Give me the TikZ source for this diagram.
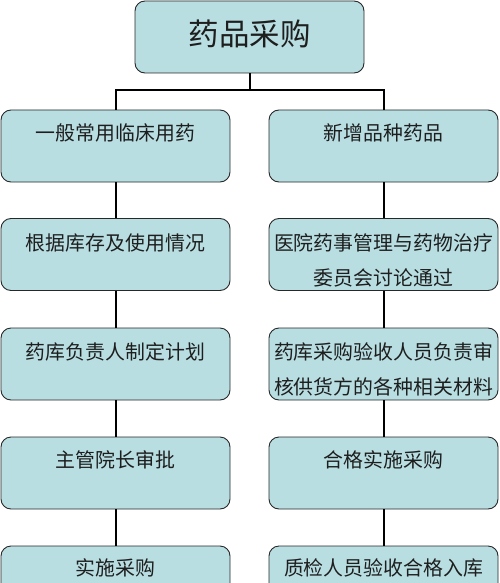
\documentclass[tikz,border=0pt]{standalone}
\usepackage{fontspec}
\newfontfamily\cjk{Noto Sans CJK SC}
\usetikzlibrary{calc}
\definecolor{boxfill}{RGB}{184,222,226}
\definecolor{boxline}{RGB}{40,40,40}
\definecolor{txtcol}{RGB}{30,30,30}
\tikzset{
  box/.style={draw=boxline, line width=0.9pt, fill=boxfill, rounded corners=10pt,
    minimum width=229pt, minimum height=72pt, inner sep=0pt},
  topbox/.style={box, minimum width=229pt, minimum height=72pt},
  txt/.style={font=\cjk\fontsize{19.9}{20}\selectfont, text=txtcol, inner sep=0pt, anchor=center},
  title/.style={font=\cjk\fontsize{30.5}{31}\selectfont, text=txtcol, inner sep=0pt},
  link/.style={draw=black, line width=2pt}
}
\begin{document}
\begin{tikzpicture}[x=1pt,y=-1pt]
\clip (0,0) rectangle (500,583);
% boxes
\node[topbox] (t) at (249.5,37) {};
\node[box] (l1) at (115.5,146) {};
\node[box] (r1) at (383.5,146) {};
\node[box] (l2) at (115.5,254.5) {};
\node[box] (r2) at (383.5,254.5) {};
\node[box] (l3) at (115.5,364) {};
\node[box] (r3) at (383.5,364) {};
\node[box] (l4) at (115.5,473) {};
\node[box] (r4) at (383.5,473) {};
\node[box] (l5) at (115.5,582) {};
\node[box] (r5) at (383.5,582) {};
% connectors
\coordinate (j) at (249.5,90);
\draw[link] (t.south) -- (j);
\draw[link] (j) -| (l1.north);
\draw[link] (j) -| (r1.north);
\draw[link] (l1.south) -- (l2.north);
\draw[link] (l2.south) -- (l3.north);
\draw[link] (l3.south) -- (l4.north);
\draw[link] (l4.south) -- (l5.north);
\draw[link] (r1.south) -- (r2.north);
\draw[link] (r2.south) -- (r3.north);
\draw[link] (r3.south) -- (r4.north);
\draw[link] (r4.south) -- (r5.north);
% texts
\node[title] (tt) at (249.5,34) {药品采购};
\node[txt] (tl1) at (115.5,133) {一般常用临床用药};
\node[txt] (tr1) at (383.5,133) {新增品种药品};
\node[txt] (tl2) at (115.5,243) {根据库存及使用情况};
\node[txt] (tr2a) at (383.5,243) {医院药事管理与药物治疗};
\node[txt] (tr2b) at (383.5,278) {委员会讨论通过};
\node[txt] (tl3) at (115.5,352) {药库负责人制定计划};
\node[txt] (tr3a) at (383.5,352) {药库采购验收人员负责审};
\node[txt] (tr3b) at (383.5,387) {核供货方的各种相关材料};
\node[txt] (tl4) at (115.5,460) {主管院长审批};
\node[txt] (tr4) at (383.5,460) {合格实施采购};
\node[txt] (tl5) at (115.5,568) {实施采购};
\node[txt] (tr5) at (383.5,568) {质检人员验收合格入库};
\end{tikzpicture}
\end{document}
